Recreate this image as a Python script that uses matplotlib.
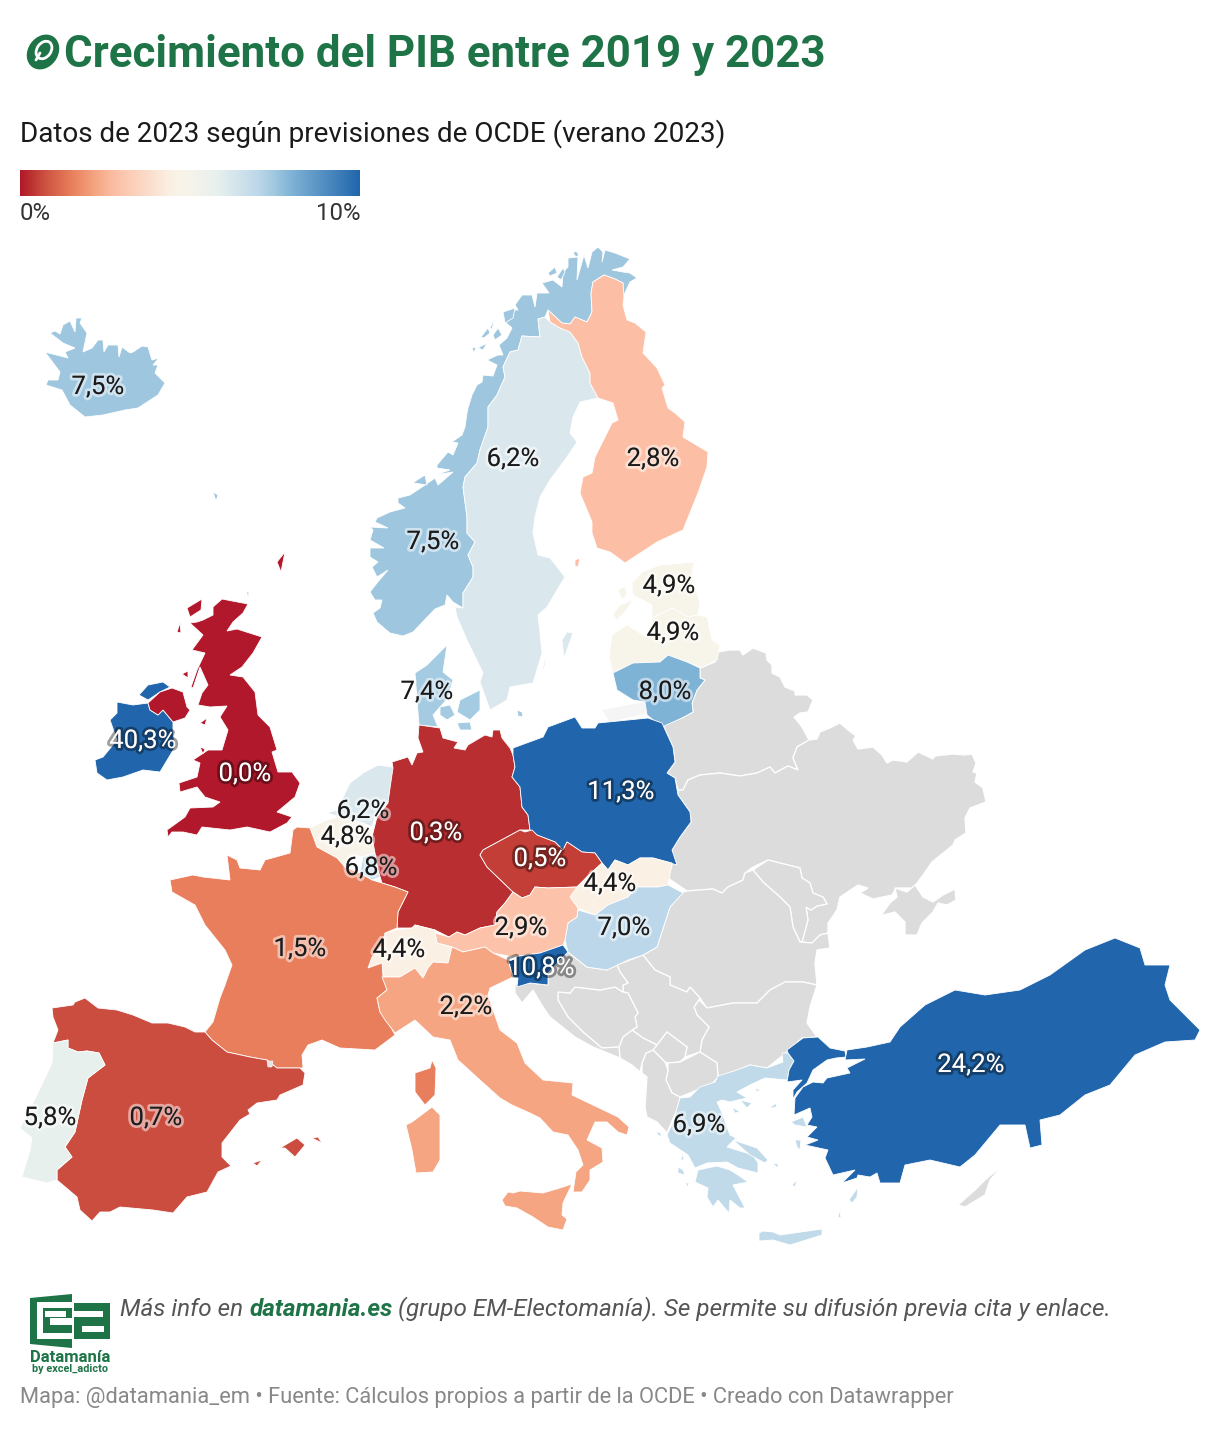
import matplotlib
matplotlib.use("Agg")
import matplotlib.pyplot as plt
import matplotlib.patheffects as pe
from matplotlib.colors import LinearSegmentedColormap, Normalize
from matplotlib.patches import Polygon, Ellipse
import numpy as np

plt.rcParams["font.family"] = ["Roboto", "DejaVu Sans"]

# datos
countries = ["Islandia", "Noruega", "Suecia", "Finlandia", "Estonia", "Letonia", "Lituania", "Dinamarca",
             "Irlanda", "Reino Unido", "Paises Bajos", "Belgica", "Luxemburgo", "Alemania", "Polonia",
             "Chequia", "Eslovaquia", "Hungria", "Austria", "Suiza", "Eslovenia", "Francia", "Italia",
             "Espana", "Portugal", "Grecia", "Turquia"]
values = [7.5, 7.5, 6.2, 2.8, 4.9, 4.9, 8.0, 7.4,
          40.3, 0.0, 6.2, 4.8, 6.8, 0.3, 11.3,
          0.5, 4.4, 7.0, 2.9, 4.4, 10.8, 1.5, 2.2,
          0.7, 5.8, 6.9, 24.2]
label_x = [98, 433, 513, 653, 669, 673, 665, 427,
           143, 245, 363, 347, 371, 436, 621,
           540, 610, 624, 521, 399, 541, 300, 466,
           156, 50, 699, 971]
label_y = [386, 541, 458, 458, 585, 632, 691, 691,
           740, 773, 810, 836, 867, 832, 791,
           858, 883, 927, 927, 949, 967, 948, 1006,
           1117, 1117, 1124, 1064]
scale_colors = ["#b2182b", "#ba3030", "#cc5040", "#e87f5b", "#f5a582", "#fcc0a6", "#faf0e4", "#f7f4ea", "#e8f0ee",
                "#bdd8ea", "#a0c8e0", "#7fb3d6", "#2166ac"]
scale_stops = [0, 0.03, 0.07, 0.15, 0.22, 0.28, 0.44, 0.49, 0.58, 0.70, 0.75, 0.80, 1.0]

# fronteras compartidas
no_se = [(545, 317), (538, 319), (540, 337), (522, 336), (518, 350), (510, 352), (503, 367), (505, 377), (497, 395),
         (488, 407), (488, 427), (480, 450), (477, 463), (465, 477), (463, 487), (467, 517), (467, 533), (475, 542),
         (468, 555), (473, 567), (473, 577), (463, 593), (463, 608)]
fi_se = [(550, 322), (560, 328), (570, 332), (578, 343), (582, 357), (590, 373), (590, 383), (598, 398)]

shapes = {
    "Islandia": [[(50, 333), (55, 331), (60, 334), (63, 325), (70, 321), (75, 332), (76, 318), (82, 318), (80, 323),
                  (87, 333), (83, 352), (92, 348), (98, 340), (103, 340), (104, 352), (108, 345), (118, 345), (119, 357),
                  (122, 347), (130, 353), (133, 352), (142, 346), (148, 347), (152, 360), (159, 358), (153, 365),
                  (158, 365), (155, 373), (165, 383), (158, 395), (138, 408), (125, 410), (103, 415), (85, 417),
                  (70, 405), (62, 390), (46, 385), (48, 380), (58, 380), (60, 372), (45, 352), (68, 358), (65, 352),
                  (75, 348), (63, 343)],
                 [(213, 492), (218, 495), (216, 501)]],
    "Noruega": [[(403, 636), (390, 633), (377, 622), (373, 613), (380, 608), (382, 600), (375, 600), (370, 592), (377, 583),
                 (388, 570), (377, 577), (372, 567), (378, 562), (370, 557), (370, 548), (384, 548), (370, 540), (373, 530),
                 (370, 527), (388, 528), (375, 522), (377, 518), (390, 512), (405, 508), (398, 503), (398, 498), (410, 495),
                 (425, 485), (435, 478), (438, 485), (453, 472), (435, 475), (450, 470), (437, 468), (437, 465), (448, 452),
                 (453, 455), (458, 443), (452, 442), (462, 435), (465, 427), (467, 413), (468, 408), (472, 395), (477, 385),
                 (482, 382), (483, 375), (493, 376), (497, 365), (487, 360), (498, 355), (503, 355), (499, 345), (507, 338),
                 (512, 328), (505, 322), (510, 310), (518, 310), (515, 305), (522, 295), (532, 295), (535, 307), (537, 293),
                 (549, 293), (542, 283), (553, 280), (562, 287), (563, 272), (568, 267), (568, 258), (578, 257), (577, 280),
                 (584, 255), (588, 268), (592, 252), (598, 247), (603, 252), (602, 262), (605, 250), (615, 253), (630, 259),
                 (623, 267), (612, 270), (623, 272), (630, 273), (637, 278), (630, 282), (623, 297), (623, 283), (615, 279),
                 (604, 275), (593, 282), (591, 293), (592, 312), (587, 322), (575, 317), (570, 324), (562, 323),
                 (548, 310)] + no_se + [(453, 602), (447, 595), (445, 605), (435, 609), (413, 632)],
                [(472, 348), (476, 347), (474, 353)], [(478, 348), (487, 343), (483, 350)],
                [(481, 337), (488, 328), (490, 333), (484, 338)], [(490, 328), (495, 318), (492, 329)],
                [(493, 335), (498, 328), (502, 335), (495, 340)], [(503, 312), (515, 308), (513, 318), (505, 323)],
                [(548, 273), (555, 267), (557, 273), (550, 276)], [(557, 277), (563, 268), (565, 272), (561, 280)],
                [(573, 253), (576, 251), (579, 255), (576, 257)], [(417, 480), (425, 475), (427, 485), (413, 483)]],
    "Suecia": [no_se + [(455, 607), (457, 617), (467, 640), (483, 673), (480, 682), (490, 710), (507, 700), (510, 687),
                        (533, 683), (542, 653), (540, 633), (538, 615), (547, 607), (557, 590), (565, 577), (550, 558),
                        (538, 555), (533, 533), (535, 517), (540, 497), (550, 480), (567, 457), (577, 442), (570, 433),
                        (573, 417), (580, 402)] + fi_se[::-1],
               [(562, 640), (567, 632), (573, 633), (568, 647), (564, 658)], [(540, 680), (547, 650), (545, 665)]],
    "Finlandia": [[(548, 310), (562, 323), (570, 324), (575, 317), (587, 322), (592, 312), (591, 293), (593, 282), (604, 275),
                   (615, 279), (623, 283), (624, 297), (623, 305), (627, 320), (635, 323), (646, 332), (643, 353),
                   (657, 368), (665, 385), (662, 388), (668, 408), (675, 413), (685, 422), (683, 437), (708, 452),
                   (707, 467), (698, 493), (683, 530), (672, 535), (657, 542), (625, 563), (617, 557), (610, 552),
                   (597, 548), (592, 533), (592, 522), (580, 493), (583, 477), (592, 473), (595, 457), (612, 423),
                   (618, 420), (613, 403)] + fi_se[::-1],
                  [(575, 560), (580, 558), (578, 567), (575, 566)]],
    "Estonia": [[(632, 583), (642, 572), (660, 565), (695, 562), (692, 570), (695, 587), (700, 603), (698, 615),
                 (687, 617), (673, 608), (652, 618), (652, 605), (633, 595)],
                [(618, 590), (625, 586), (627, 594), (622, 600)], [(613, 615), (620, 605), (633, 600), (625, 612), (617, 620)]],
    "Letonia": [[(612, 635), (627, 625), (648, 638), (652, 618), (673, 608), (687, 617), (698, 615), (707, 617),
                 (712, 640), (720, 645), (717, 660), (702, 668), (687, 662), (668, 655), (660, 662), (633, 663),
                 (613, 673), (609, 657)]],
    "Lituania": [[(613, 673), (633, 663), (660, 662), (668, 655), (687, 662), (700, 668), (700, 678), (705, 680),
                  (697, 690), (692, 703), (693, 712), (682, 718), (662, 727), (647, 715), (645, 702), (633, 700), (617, 690)]],
    "Dinamarca": [[(447, 645), (443, 672), (453, 680), (448, 698), (433, 715), (438, 727), (419, 725), (417, 700),
                   (415, 673), (427, 665)],
                  [(440, 707), (450, 705), (455, 715), (447, 720), (440, 715)],
                  [(460, 700), (480, 690), (480, 710), (470, 720), (457, 712)],
                  [(457, 723), (470, 722), (472, 730), (460, 730)], [(517, 710), (522, 712), (523, 717), (518, 716)]],
    "Irlanda": [[(117, 702), (133, 705), (148, 703), (150, 710), (158, 715), (163, 710), (173, 722), (173, 730),
                 (175, 747), (163, 767), (160, 772), (143, 770), (123, 777), (107, 780), (97, 773), (95, 760),
                 (103, 757), (117, 740), (110, 720), (117, 713)],
                [(139, 695), (148, 685), (163, 682), (170, 687), (160, 692), (148, 700)]],
    "Reino Unido": [[(222, 599), (248, 604), (243, 613), (233, 622), (227, 631), (237, 629), (262, 637), (253, 653),
                     (242, 667), (230, 675), (243, 677), (255, 692), (258, 715), (270, 727), (277, 750), (272, 752),
                     (278, 772), (292, 772), (300, 783), (295, 797), (277, 812), (292, 817), (287, 823), (270, 832),
                     (247, 827), (230, 830), (202, 827), (197, 835), (183, 832), (172, 832), (168, 837), (167, 830),
                     (185, 817), (190, 808), (213, 807), (220, 802), (205, 797), (197, 787), (180, 792), (179, 783),
                     (197, 777), (200, 763), (193, 760), (208, 750), (222, 750), (228, 730), (220, 717), (227, 706),
                     (210, 707), (198, 705), (202, 693), (208, 685), (200, 667), (193, 688), (191, 687), (197, 670),
                     (205, 653), (192, 650), (203, 635), (190, 623), (197, 622), (203, 620), (213, 615), (213, 607)],
                    [(148, 703), (160, 692), (172, 688), (183, 692), (187, 707), (190, 710), (185, 718), (173, 722),
                     (163, 710), (158, 715), (150, 710)],
                    [(187, 608), (202, 599), (201, 610), (190, 617)], [(177, 632), (180, 623), (181, 633)],
                    [(182, 674), (188, 671), (188, 678)], [(200, 723), (207, 718), (205, 725)],
                    [(200, 747), (205, 749), (203, 754)], [(247, 593), (249, 590), (248, 596)],
                    [(277, 562), (285, 552), (281, 572)]],
    "Paises Bajos": [[(363, 773), (378, 765), (392, 767), (395, 770), (390, 788), (388, 803), (375, 817), (372, 827),
                      (363, 823), (340, 817), (327, 813), (337, 810), (350, 783), (358, 777)]],
    "Belgica": [[(310, 828), (327, 820), (340, 817), (363, 823), (372, 833), (375, 853), (363, 857), (353, 855),
                 (345, 867), (337, 858), (317, 847)]],
    "Luxemburgo": [[(363, 857), (375, 853), (378, 870), (380, 877), (372, 880), (360, 873)]],
    "Alemania": [[(419, 725), (440, 728), (443, 738), (458, 742), (454, 748), (465, 750), (468, 745), (485, 735),
                  (492, 737), (493, 730), (500, 730), (502, 738), (510, 748), (513, 755), (515, 767), (512, 777),
                  (520, 787), (522, 807), (528, 815), (530, 830), (520, 830), (483, 850), (480, 855), (487, 867),
                  (513, 892), (505, 903), (497, 912), (495, 925), (480, 928), (465, 935), (457, 932), (449, 937),
                  (435, 930), (415, 925), (412, 928), (397, 928), (398, 912), (408, 892), (395, 887), (382, 883),
                  (378, 870), (375, 853), (372, 837), (377, 817), (388, 803), (390, 788), (393, 768), (392, 762),
                  (408, 757), (412, 765), (417, 753), (423, 752), (418, 738)]],
    "Polonia": [[(513, 748), (543, 737), (548, 727), (575, 717), (582, 728), (595, 728), (598, 723), (648, 718),
                 (662, 723), (673, 747), (675, 762), (667, 773), (675, 778), (678, 795), (690, 812),
                 (691, 822), (680, 837), (672, 850), (677, 865), (653, 858), (640, 858), (628, 865), (615, 860),
                 (608, 870), (602, 863), (595, 853), (582, 852), (567, 842), (563, 850), (555, 842), (537, 835),
                 (530, 830), (528, 815), (522, 807), (520, 787), (512, 777), (515, 767), (513, 755)]],
    "Chequia": [[(480, 855), (483, 850), (520, 830), (525, 832), (532, 830), (537, 835), (555, 842), (563, 850),
                 (567, 842), (582, 852), (595, 853), (602, 863), (587, 877), (577, 887), (548, 888), (535, 887),
                 (530, 895), (522, 898), (513, 892), (487, 867)]],
    "Eslovaquia": [[(602, 863), (608, 870), (615, 860), (628, 865), (640, 858), (653, 858), (672, 863), (668, 885),
                    (658, 887), (637, 887), (628, 897), (608, 905), (595, 915), (578, 908), (570, 897), (577, 887),
                    (587, 877)]],
    "Hungria": [[(578, 910), (595, 915), (608, 905), (628, 897), (637, 887), (658, 887), (668, 885), (683, 893),
                 (670, 907), (657, 947), (643, 955), (628, 960), (607, 970), (587, 967), (568, 952), (565, 940),
                 (568, 923), (577, 917)]],
    "Austria": [[(435, 933), (449, 937), (457, 932), (465, 935), (480, 928), (495, 925), (497, 912), (505, 903),
                 (513, 892), (522, 898), (530, 895), (535, 887), (548, 888), (577, 887), (570, 897), (578, 908),
                 (577, 917), (568, 923), (565, 940), (563, 945), (540, 953), (513, 957), (493, 953), (485, 947),
                 (463, 952), (452, 947), (437, 943)]],
    "Suiza": [[(385, 933), (397, 930), (412, 928), (415, 925), (435, 930), (435, 933), (437, 943), (452, 947),
               (448, 963), (433, 962), (428, 968), (423, 978), (415, 968), (400, 977), (383, 977), (382, 963),
               (368, 968), (372, 957), (382, 945)]],
    "Eslovenia": [[(563, 945), (568, 952), (548, 973), (548, 985), (530, 983), (517, 987), (518, 978), (513, 977),
                   (508, 960), (513, 957), (540, 953)]],
    "Francia": [[(297, 827), (310, 828), (317, 847), (337, 858), (345, 867), (360, 873), (372, 880), (382, 883),
                 (395, 887), (408, 892), (398, 912), (397, 928), (385, 933), (382, 945), (372, 957), (368, 968),
                 (382, 963), (383, 977), (387, 990), (377, 998), (380, 1012), (388, 1022), (395, 1035), (375, 1050),
                 (340, 1048), (322, 1040), (308, 1045), (302, 1055), (303, 1068), (277, 1068), (267, 1060), (250, 1057),
                 (227, 1052), (212, 1040), (205, 1032), (213, 1022), (220, 998), (225, 985),
                 (232, 965), (225, 950), (205, 925), (195, 905), (172, 892), (170, 880), (193, 875),
                 (203, 877), (230, 880), (227, 855), (237, 860), (240, 868), (260, 870), (265, 860), (290, 853),
                 (293, 830)],
                [(432, 1060), (436, 1068), (435, 1095), (425, 1105), (415, 1092), (415, 1073), (430, 1068)]],
    "Italia": [[(382, 977), (400, 977), (415, 968), (423, 978), (428, 968), (433, 962), (448, 963), (452, 947),
                (463, 952), (485, 947), (493, 953), (508, 960), (513, 977), (490, 988), (488, 995), (493, 1010),
                (500, 1030), (517, 1043), (525, 1063), (543, 1080), (573, 1083), (572, 1095), (597, 1107), (618, 1117),
                (629, 1127), (627, 1135), (618, 1132), (607, 1122), (595, 1122), (587, 1140), (602, 1148), (603, 1162),
                (590, 1170), (590, 1180), (582, 1192), (573, 1192), (576, 1172), (583, 1165), (578, 1150), (568, 1135),
                (553, 1132), (540, 1118), (530, 1113), (512, 1105), (500, 1098), (480, 1080), (458, 1060), (450, 1040),
                (433, 1037), (415, 1020), (395, 1033), (385, 1020), (380, 1012), (377, 998), (387, 990)],
               [(502, 1200), (508, 1192), (513, 1193), (520, 1191), (543, 1193), (560, 1188), (572, 1184), (563, 1203),
                (562, 1215), (567, 1219), (563, 1230), (548, 1227), (533, 1217), (517, 1208), (505, 1206)],
               [(412, 1122), (432, 1107), (440, 1115), (440, 1160), (433, 1172), (416, 1173), (412, 1150), (406, 1125)]],
    "Espana": [[(52, 1008), (73, 1005), (75, 1002), (85, 998), (98, 1008), (117, 1010), (133, 1015), (152, 1023), (168, 1023),
                (185, 1027), (195, 1032), (205, 1032), (212, 1040), (227, 1052), (250, 1057), (267, 1060), (277, 1068),
                (300, 1068), (305, 1073), (303, 1085), (280, 1095), (277, 1100), (257, 1103), (248, 1110), (250, 1114),
                (240, 1120), (222, 1143), (222, 1157), (231, 1166), (218, 1172), (207, 1192), (187, 1197), (173, 1213),
                (153, 1210), (120, 1207), (110, 1212), (100, 1212), (92, 1221), (80, 1210), (77, 1197), (57, 1180),
                (57, 1170), (72, 1157), (65, 1147), (75, 1132), (82, 1100), (88, 1078), (105, 1065), (99, 1053), (87, 1051),
                (78, 1052), (68, 1048), (68, 1040), (53, 1043), (58, 1030), (53, 1017)],
               [(280, 1148), (297, 1138), (305, 1145), (295, 1157), (285, 1148)],
               [(312, 1138), (318, 1137), (322, 1143)], [(253, 1163), (262, 1160), (257, 1166)]],
    "Portugal": [[(53, 1043), (68, 1040), (68, 1048), (78, 1052), (87, 1051), (99, 1053), (105, 1065), (88, 1078), (82, 1100),
                  (75, 1132), (65, 1147), (72, 1157), (57, 1170), (57, 1180), (47, 1183), (22, 1177), (30, 1150), (32, 1138),
                  (20, 1128), (37, 1095), (52, 1063)]],
    "Grecia": [[(782, 1053), (788, 1053), (794, 1061), (789, 1070), (787, 1080), (765, 1078), (750, 1085), (737, 1092),
                (747, 1098), (738, 1100), (730, 1102), (722, 1100), (717, 1102), (722, 1113), (730, 1135), (736, 1138),
                (727, 1147), (753, 1155), (758, 1163), (758, 1173), (738, 1168), (727, 1162), (707, 1163), (695, 1168),
                (688, 1155), (670, 1143), (667, 1135), (673, 1122), (680, 1098), (690, 1097), (700, 1087), (715, 1082),
                (718, 1076), (737, 1070), (750, 1065), (767, 1068), (783, 1062)],
               [(698, 1170), (717, 1166), (730, 1170), (738, 1175), (748, 1182), (733, 1185), (745, 1208), (740, 1208),
                (730, 1200), (729, 1213), (718, 1200), (713, 1207), (707, 1197), (708, 1188), (695, 1182)],
               [(733, 1140), (757, 1148), (768, 1160), (765, 1163), (750, 1155)],
               [(759, 1233), (763, 1231), (773, 1232), (780, 1235), (822, 1229), (822, 1235), (790, 1245), (773, 1240),
                (759, 1241)],
               [(755, 1088), (760, 1090), (757, 1092)], [(770, 1107), (777, 1103), (776, 1107), (772, 1108)],
               [(732, 1107), (740, 1112), (735, 1113)], [(740, 1100), (752, 1103), (747, 1108)],
               [(791, 1122), (803, 1117), (807, 1127), (795, 1125)], [(795, 1140), (801, 1140), (800, 1150), (797, 1147)],
               [(792, 1185), (797, 1180), (795, 1187)], [(849, 1200), (858, 1187), (857, 1197), (852, 1203)],
               [(685, 1183), (689, 1183), (688, 1187)], [(678, 1167), (683, 1170), (685, 1175), (678, 1173)],
               [(656, 1133), (660, 1132), (662, 1138)], [(838, 1217), (840, 1210), (841, 1218)],
               [(772, 1163), (778, 1164), (778, 1168)], [(742, 1215), (743, 1218), (745, 1219)],
               [(682, 1153), (684, 1160), (681, 1160)]],
    "Turquia": [[(787, 1050), (803, 1038), (818, 1037), (830, 1048), (845, 1051), (846, 1057), (836, 1058), (827, 1060),
                 (813, 1070), (807, 1083), (797, 1092), (793, 1099), (793, 1090), (802, 1080), (787, 1082), (789, 1070),
                 (794, 1061), (788, 1053)],
                [(847, 1050), (867, 1047), (890, 1042), (900, 1027), (925, 1005), (955, 990), (985, 995), (1020, 990),
                 (1050, 975), (1085, 950), (1115, 938), (1140, 948), (1145, 965), (1170, 965), (1165, 985), (1170, 1000),
                 (1190, 1020), (1200, 1030), (1195, 1040), (1165, 1042), (1135, 1055), (1110, 1085), (1085, 1095),
                 (1060, 1115), (1040, 1120), (1042, 1145), (1030, 1148), (1025, 1125), (1000, 1125), (975, 1155),
                 (960, 1167), (930, 1160), (905, 1165), (900, 1183), (880, 1183), (877, 1173), (870, 1177), (858, 1175),
                 (857, 1178), (842, 1183), (855, 1170), (833, 1175), (825, 1158), (828, 1150), (805, 1145), (813, 1142),
                 (818, 1140), (807, 1137), (817, 1127), (807, 1125), (812, 1117), (810, 1108), (794, 1115), (795, 1098),
                 (803, 1087), (813, 1082), (823, 1083), (827, 1078), (850, 1073), (847, 1068), (865, 1059), (845, 1060)]],
}

# sin datos, en gris
gray_shapes = [
    [(700, 668), (715, 662), (718, 652), (730, 650), (740, 650), (743, 655), (753, 648), (766, 653), (767, 660), (772, 665),
     (772, 673), (780, 677), (785, 687), (795, 691), (795, 695), (807, 695), (813, 700), (808, 712), (800, 713), (794, 717),
     (802, 727), (809, 740), (797, 747), (793, 758), (798, 770), (788, 766), (775, 773), (770, 767), (757, 773), (740, 776),
     (720, 773), (700, 775), (688, 780), (683, 790), (678, 790), (675, 778), (667, 773), (675, 762), (673, 747), (662, 723),
     (682, 718), (693, 712), (692, 703), (697, 690), (705, 680), (700, 678)],
    [(809, 740), (817, 739), (820, 732), (830, 728), (840, 723), (848, 730), (856, 736), (853, 740), (858, 749), (873, 747),
     (882, 755), (887, 763), (893, 760), (907, 762), (918, 752), (933, 759), (935, 756), (953, 754), (965, 755), (972, 754),
     (976, 763), (973, 772), (977, 773), (975, 782), (983, 788), (986, 802), (970, 808), (965, 818), (966, 833), (955, 840),
     (953, 845), (932, 862), (923, 875), (917, 883), (913, 888), (896, 888), (892, 895), (873, 899), (860, 893), (868, 888),
     (858, 885), (840, 897), (837, 910), (828, 923), (828, 933), (820, 935), (812, 943), (802, 942), (808, 920), (806, 907),
     (811, 910), (817, 906), (827, 904), (823, 897), (813, 893), (810, 883), (802, 878), (800, 868), (780, 863), (768, 860),
     (753, 867), (745, 873), (743, 880), (728, 887), (722, 893), (713, 889), (687, 891), (668, 878), (672, 865), (672, 850),
     (680, 837), (691, 822), (690, 812), (678, 795), (678, 790), (683, 790), (688, 780), (700, 775), (720, 773), (740, 776),
     (757, 773), (770, 767), (775, 773), (788, 766), (798, 770), (793, 758), (797, 747)],
    [(880, 917), (890, 903), (897, 897), (895, 888), (907, 892), (915, 885), (923, 897), (933, 902), (943, 895), (955, 889),
     (956, 900), (947, 905), (938, 903), (933, 912), (922, 923), (917, 935), (905, 935), (905, 922), (895, 912), (883, 915)],
    [(753, 870), (768, 860), (780, 863), (800, 868), (802, 878), (810, 883), (813, 893), (823, 897), (827, 904), (817, 906),
     (811, 910), (806, 907), (808, 920), (802, 942), (800, 942), (793, 927), (790, 907), (780, 897), (763, 882)],
    [(683, 892), (687, 891), (713, 889), (722, 893), (728, 887), (743, 880), (745, 873), (753, 870), (763, 882), (780, 897),
     (790, 907), (793, 927), (800, 942), (812, 943), (820, 935), (828, 933), (830, 948), (817, 950), (815, 963), (817, 985),
     (803, 982), (785, 982), (770, 990), (757, 1003), (733, 1003), (707, 1008), (700, 998), (690, 987), (687, 992), (670, 985),
     (670, 977), (655, 970), (643, 955), (657, 947), (670, 907)],
    [(817, 985), (810, 1007), (807, 1023), (817, 1037), (802, 1038), (787, 1052), (767, 1068), (750, 1065), (733, 1072),
     (718, 1077), (717, 1063), (700, 1052), (702, 1040), (709, 1027), (697, 1015), (694, 1007), (699, 1000), (707, 1008),
     (733, 1003), (757, 1003), (770, 990), (785, 982), (803, 982)],
    [(617, 965), (643, 955), (655, 970), (670, 977), (670, 985), (687, 992), (690, 987), (700, 998), (694, 1007),
     (697, 1015), (709, 1027), (702, 1040), (700, 1052), (685, 1057), (687, 1047), (667, 1032), (657, 1045), (643, 1038),
     (632, 1030), (637, 1027), (635, 1017), (638, 1013), (628, 993), (623, 992), (623, 985), (628, 983), (620, 972)],
    [(667, 1032), (687, 1047), (685, 1057), (680, 1062), (668, 1063), (665, 1062), (653, 1050), (657, 1045)],
    [(668, 1070), (668, 1063), (680, 1062), (700, 1052), (717, 1063), (718, 1077), (713, 1083), (697, 1090), (680, 1097),
     (672, 1093), (666, 1080)],
    [(642, 1063), (646, 1053), (653, 1050), (665, 1062), (668, 1070), (666, 1080), (672, 1093), (680, 1097), (678, 1107),
     (667, 1133), (657, 1122), (647, 1117), (645, 1107), (647, 1077), (642, 1073)],
    [(620, 1058), (619, 1047), (623, 1037), (632, 1030), (643, 1038), (657, 1045), (653, 1050), (646, 1053), (642, 1063),
     (640, 1072), (632, 1065)],
    [(558, 992), (570, 993), (575, 987), (600, 990), (615, 987), (623, 992), (628, 993), (638, 1013), (635, 1017),
     (637, 1027), (632, 1030), (623, 1037), (619, 1047), (602, 1048), (583, 1032), (568, 1017), (558, 1000)],
    [(563, 945), (568, 952), (587, 967), (607, 970), (617, 965), (620, 972), (628, 983), (623, 985), (623, 992), (615, 987),
     (600, 990), (575, 987), (570, 993), (558, 992), (558, 1000), (568, 1017), (583, 1032), (602, 1048), (619, 1047),
     (620, 1058), (593, 1047), (575, 1037), (550, 1017), (543, 1007), (533, 990), (522, 1003), (515, 993), (515, 985),
     (530, 983), (548, 985), (548, 973)],
    [(958, 1205), (975, 1190), (985, 1180), (1003, 1165), (990, 1180), (985, 1195), (965, 1207)],
]
kaliningrad = [(602, 710), (645, 702), (647, 713), (610, 722)]
andorra = [(267, 1061), (273, 1061), (272, 1067), (268, 1067)]

cmap = LinearSegmentedColormap.from_list("rdbu", list(zip(scale_stops, scale_colors)))
norm = Normalize(0, 10, clip=True)

fig = plt.figure(figsize=(12.2, 14.3), dpi=100)
ax = fig.add_axes([0, 0, 1, 1])

for pts in gray_shapes:
    ax.add_patch(Polygon(pts, closed=True, fc="#dcdcdc", ec="white", lw=0.9, zorder=1))
ax.add_patch(Polygon(kaliningrad, closed=True, fc="#f5f5f5", ec="none", zorder=1))

for name, val in zip(countries, values):
    for pts in shapes[name]:
        ax.add_patch(Polygon(pts, closed=True, fc=cmap(norm(val)), ec="white", lw=0.6, zorder=2))
ax.add_patch(Polygon(andorra, closed=True, fc="#e4e4e4", ec="white", lw=0.4, zorder=3))

for val, x, y in zip(values, label_x, label_y):
    txt = f"{val:.1f}%".replace(".", ",")
    dark = val < 0.6 or val >= 10
    t = ax.text(x, y + 1, txt, ha="center", va="center", fontsize=18.5, zorder=5, color="white" if dark else "#1a1a1a")
    halo = (0, 0, 0, 0.38) if dark else (1, 1, 1, 0.5)
    t.set_path_effects([pe.withStroke(linewidth=4, foreground=halo)])

# cabecera
green = "#1f7447"
ax.text(64, 55, "Crecimiento del PIB entre 2019 y 2023", fontsize=31.6, fontweight="bold", color=green, va="center")
ax.add_patch(Ellipse((43, 52), 30, 37, angle=35, fc=green, ec="none"))
ax.add_patch(Ellipse((44, 50), 14, 19, angle=35, fc="none", ec="white", lw=2))
ax.plot([40, 36], [53, 60], color="white", lw=2, solid_capstyle="round")
ax.text(20, 134, "Datos de 2023 según previsiones de OCDE (verano 2023)", fontsize=20.1, color="#1a1a1a", va="center")

ax.imshow(np.linspace(0, 1, 256).reshape(1, -1), cmap=cmap, extent=(20, 360, 196, 170), aspect="auto", zorder=2)
ax.text(20, 213, "0%", fontsize=17.2, color="#333333", va="center")
ax.text(360, 213, "10%", fontsize=17.2, color="#333333", va="center", ha="right")

# logo
ax.fill([30, 72, 72, 30], [1298, 1294, 1302, 1302], color=green, zorder=3, lw=0)
ax.fill([30, 37, 37, 30], [1298, 1298, 1344, 1344], color=green, zorder=3, lw=0)
ax.fill([43, 72, 72, 43], [1308, 1308, 1318, 1318], color=green, zorder=3, lw=0)
ax.fill([43, 50, 50, 43], [1318, 1318, 1325, 1325], color=green, zorder=3, lw=0)
ax.fill([43, 72, 72, 43], [1325, 1325, 1333, 1333], color=green, zorder=3, lw=0)
ax.fill([30, 72, 72, 30], [1339, 1339, 1348, 1344], color=green, zorder=3, lw=0)
ax.fill([74, 110, 110, 74], [1303, 1303, 1311, 1311], color=green, zorder=3, lw=0)
ax.fill([103, 110, 110, 103], [1311, 1311, 1317, 1317], color=green, zorder=3, lw=0)
ax.fill([74, 110, 110, 74], [1317, 1317, 1339, 1339], color=green, zorder=3, lw=0)
ax.fill([45, 66, 66, 45], [1311, 1311, 1317, 1317], color="white", zorder=4, lw=0)
ax.fill([82, 104, 104, 82], [1326, 1326, 1332, 1332], color="white", zorder=4, lw=0)
ax.text(70, 1358, "Datamanía", fontsize=12, fontweight="bold", color=green, ha="center", va="center")
ax.text(70, 1369, "by excel_adicto", fontsize=7.8, fontweight="bold", color=green, ha="center", va="center")

# pie, tres trozos seguidos
r = fig.canvas.get_renderer()
x = 120
for s, col, w in [("Más info en ", "#555555", "normal"), ("datamania.es", green, "bold"),
                  (" (grupo EM-Electomanía). Se permite su difusión previa cita y enlace.", "#555555", "normal")]:
    t = ax.text(x, 1309, s, fontsize=17.43, style="italic", fontweight=w, color=col, va="center")
    x = x + t.get_window_extent(r).width
ax.text(20, 1398, "Mapa: @datamania_em • Fuente: Cálculos propios a partir de la OCDE • Creado con Datawrapper",
        fontsize=15.77, color="#888888", va="center")

ax.set_xlim(0, 1220)
ax.set_ylim(1430, 0)
ax.axis("off")
fig.savefig("out.png", dpi=100)
